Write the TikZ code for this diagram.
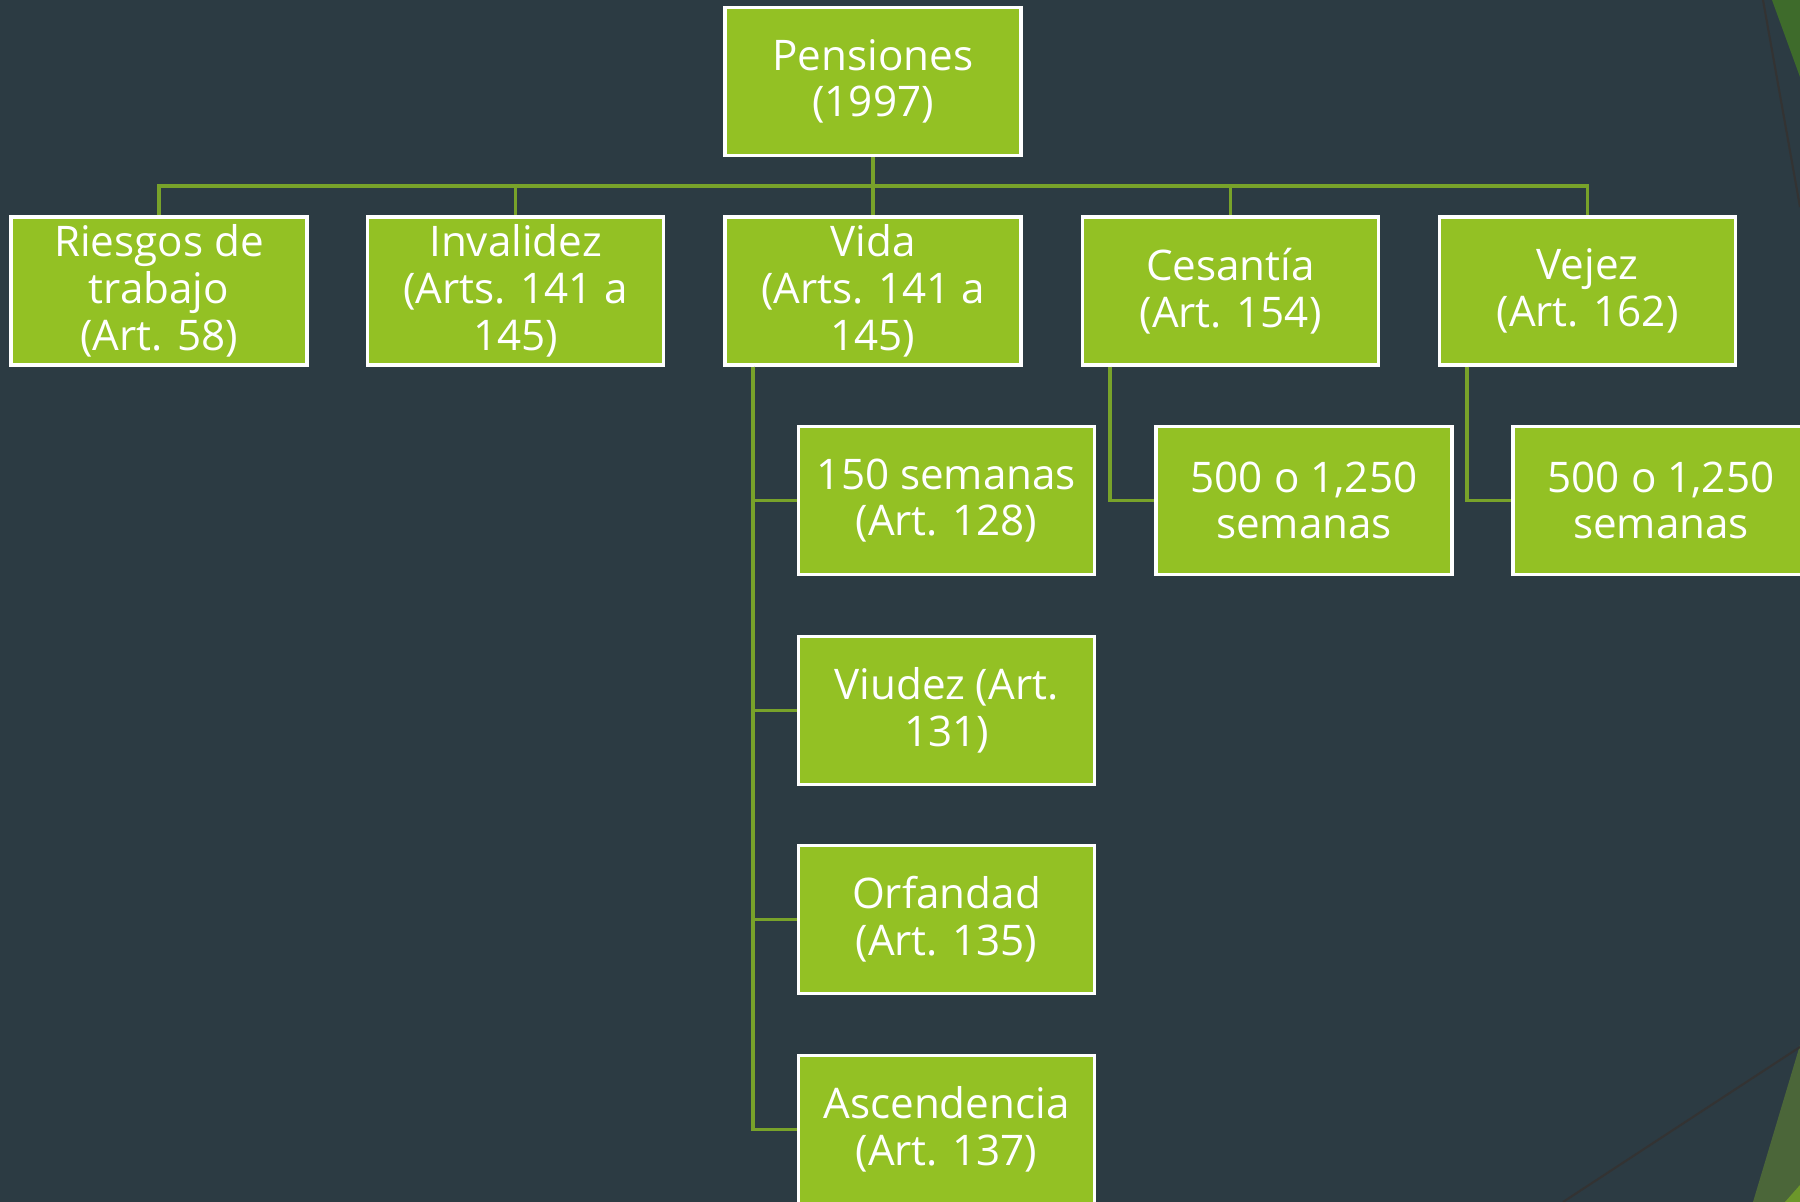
\documentclass[tikz,border=0pt]{standalone}
\usepackage{fontspec}
\setmainfont{Open Sans}
\definecolor{fondo}{HTML}{2C3B43}
\definecolor{verde}{HTML}{93C124}
\definecolor{linea}{HTML}{78A22A}
\definecolor{oscuro}{HTML}{3E6B2B}
\definecolor{olivo}{HTML}{4B6639}
\tikzset{
  caja/.style={draw=white, line width=1pt, fill=verde, text=white, align=center,
    minimum width=2.96cm, minimum height=1.48cm, inner sep=0pt,
    font=\fontsize{12}{13.3}\selectfont},
  enlace/.style={draw=linea, line width=1.1pt}
}

\begin{document}
\begin{tikzpicture}
\useasboundingbox (0,0) rectangle (18,-12.02);
\clip (0,0) rectangle (18,-12.02);
\fill[fondo] (0,0) rectangle (18,-12.02);
\fill[oscuro] (17.72,0)--(18,0)--(18,-0.77)--cycle;
\draw[black!80, line width=0.6pt] (17.63,0)--(18,-2.07);
\fill[olivo] (18,-10.45)--(18,-12.02)--(17.53,-12.02)--cycle;
\fill[linea!80!oscuro] (18,-11.85)--(18,-12.02)--(17.85,-12.02)--cycle;
\draw[black!80, line width=0.6pt] (18,-10.47)--(15.63,-12.02);

\node[caja] (pen) at ( 8.73 , -0.815 ) {Pensiones\\(1997)};
\node[caja] (rie) at ( 1.59 , -2.91 ) {Riesgos de\\trabajo\\(Art. 58)};
\node[caja] (inv) at ( 5.155 , -2.91 ) {Invalidez\\(Arts. 141 a\\145)};
\node[caja] (vid) at ( 8.73 , -2.91 ) {Vida\\(Arts. 141 a\\145)};
\node[caja] (ces) at ( 12.305 , -2.91 ) {Cesantía\\(Art. 154)};
\node[caja] (vej) at ( 15.875 , -2.91 ) {Vejez\\(Art. 162)};
\node[caja] (sem) at ( 9.465 , -5.005 ) {150 semanas\\(Art. 128)};
\node[caja] (viu) at ( 9.465 , -7.105 ) {Viudez (Art.\\131)};
\node[caja] (orf) at ( 9.465 , -9.195 ) {Orfandad\\(Art. 135)};
\node[caja] (asc) at ( 9.465 , -11.295 ) {Ascendencia\\(Art. 137)};
\node[caja] (cse) at ( 13.04 , -5.005 ) {500 o 1,250\\semanas};
\node[caja] (vse) at ( 16.61 , -5.005 ) {500 o 1,250\\semanas};

\coordinate (bus) at ( 8.73 , -1.86 );
\draw[enlace] (pen.south)--(bus);
\foreach \n in {rie,inv,vid,ces,vej}
  \draw[enlace] (\n.north) |- (bus);
\foreach \n in {sem,viu,orf,asc}
  \draw[enlace] ([xshift=0.30cm]vid.south west) |- (\n.west);
\draw[enlace] ([xshift=0.29cm]ces.south west) |- (cse.west);
\draw[enlace] ([xshift=0.29cm]vej.south west) |- (vse.west);
\end{tikzpicture}
\end{document}
